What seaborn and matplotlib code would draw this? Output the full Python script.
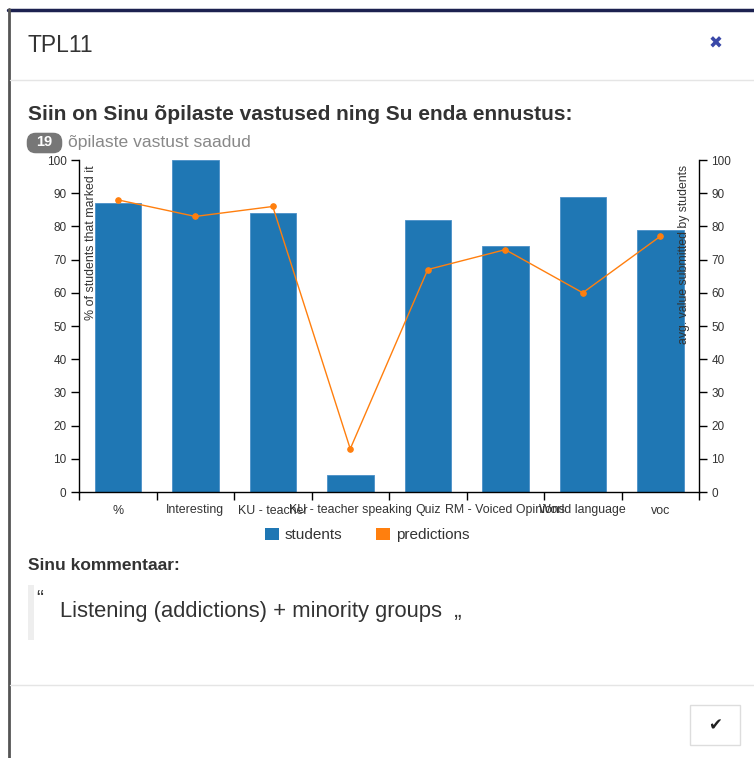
import matplotlib
matplotlib.use("Agg")
import matplotlib.pyplot as plt
import seaborn as sns
import pandas as pd
from matplotlib.lines import Line2D
from matplotlib.patches import Rectangle, FancyBboxPatch, Patch

categories = ["%", "Interesting", "KU - teacher", "KU - teacher speaking", "Quiz",
              "RM - Voiced Opinions", "World language", "voc"]
students = [87, 100, 84, 5, 82, 74, 89, 79]
predictions = [88, 83, 86, 13, 67, 73, 60, 77]
y_ticks = [0, 10, 20, 30, 40, 50, 60, 70, 80, 90, 100]

W, H = 754, 758
BLUE = "#1f77b4"
ORANGE = "#ff7f0e"
TXT = "#333333"

sns.set_theme(style="white")
plt.rcParams["font.family"] = ["Liberation Sans", "DejaVu Sans"]


def fx(x):
    return x / W


def fy(y):
    return 1 - y / H


fig = plt.figure(figsize=(W / 100, H / 100), dpi=100)
fig.patch.set_facecolor("white")

# modal frame
fig.add_artist(Line2D([fx(8), 1], [fy(9.5), fy(9.5)], color="#1c2150", lw=2.5))
fig.add_artist(Line2D([fx(9), fx(9)], [fy(9), 0], color="#555555", lw=2))
fig.add_artist(Line2D([fx(10), 1], [fy(80), fy(80)], color="#e5e5e5", lw=1))
fig.add_artist(Line2D([fx(10), 1], [fy(685), fy(685)], color="#e5e5e5", lw=1))

# header
fig.text(fx(28), fy(45), "TPL11", fontsize=16.5, color=TXT, va="center", ha="left")
fig.text(fx(716), fy(44), "\u2716", fontsize=12, color="#3a48a8", va="center", ha="center",
         family=["DejaVu Sans"])

fig.text(fx(28), fy(115), "Siin on Sinu õpilaste vastused ning Su enda ennustus:",
         fontsize=15, fontweight="bold", color=TXT, va="center", ha="left")

badge = FancyBboxPatch((fx(29), fy(151)), fx(31), (150 - 134) / H,
                       boxstyle="round,pad=0.003,rounding_size=0.012",
                       transform=fig.transFigure, facecolor="#777777", edgecolor="none")
fig.add_artist(badge)
fig.text(fx(44.5), fy(142.5), "19", fontsize=10.5, fontweight="bold", color="white",
         va="center", ha="center")
fig.text(fx(68), fy(142), "õpilaste vastust saadud", fontsize=12.6, color="#888888",
         va="center", ha="left")

# chart
ax = fig.add_axes([fx(79), fy(492), (699 - 79) / W, (492 - 160) / H])
df = pd.DataFrame({"category": categories, "students": students, "predictions": predictions})
sns.barplot(data=df, x="category", y="students", color=BLUE, width=0.6, saturation=1,
            edgecolor="#4a90c8", linewidth=0.6, ax=ax)
ax.set_xlim(-0.5, len(categories) - 0.5)
ax.set_ylim(0, 100)
ax.set_yticks(y_ticks)
ax.set_xticks(range(len(categories)))
ax.set_xticklabels(categories)
ax.set_xticks([i - 0.5 for i in range(len(categories) + 1)], minor=True)
ax.tick_params(axis="x", which="major", length=0, pad=9, labelsize=8.9, labelcolor=TXT)
ax.tick_params(axis="x", which="minor", length=6, width=1, color="black", bottom=True)
ax.tick_params(axis="y", which="major", length=6, width=1, color="black", left=True,
               labelsize=8.5, labelcolor=TXT, pad=3)
ax.set_xlabel("")
ax.set_ylabel("")
for s in ["top", "right"]:
    ax.spines[s].set_visible(False)
for s in ["left", "bottom"]:
    ax.spines[s].set_color("black")
    ax.spines[s].set_linewidth(1)
ax.text(0.02, 0.985, "% of students that marked it", transform=ax.transAxes, rotation=90,
        va="top", ha="center", fontsize=8.9, color=TXT)

ax2 = ax.twinx()
sns.pointplot(data=df, x="category", y="predictions", color=ORANGE, markersize=4,
              linewidth=1, ax=ax2)
ax2.set_xlim(-0.5, len(categories) - 0.5)
ax2.set_ylim(0, 100)
ax2.set_yticks(y_ticks)
ax2.set_ylabel("")
ax2.set_xlabel("")
ax2.tick_params(axis="y", which="major", length=6, width=1, color="black", right=True,
                labelsize=8.5, labelcolor=TXT, pad=3)
for s in ["top", "left", "bottom"]:
    ax2.spines[s].set_visible(False)
ax2.spines["right"].set_color("black")
ax2.spines["right"].set_linewidth(1)
ax2.text(0.975, 0.985, "avg. value submitted by students", transform=ax.transAxes,
         rotation=90, va="top", ha="center", fontsize=8.8, color=TXT)

handles = [Patch(facecolor=BLUE, edgecolor="none", label="students"),
           Patch(facecolor=ORANGE, edgecolor="none", label="predictions")]
fig.legend(handles=handles, loc="center", bbox_to_anchor=(fx(367), fy(535)), ncol=2,
           frameon=False, fontsize=11, handlelength=0.9, handleheight=0.9,
           handletextpad=0.4, columnspacing=2.2, labelcolor=TXT)

# comment block
fig.text(fx(28), fy(566), "Sinu kommentaar:", fontsize=12.5, fontweight="bold",
         color=TXT, va="center", ha="left")
fig.add_artist(Rectangle((fx(28), fy(640)), fx(6), (640 - 585) / H,
                         transform=fig.transFigure, facecolor="#eeeeee", edgecolor="none"))
fig.text(fx(36), fy(598), "\u201c", fontsize=15, color=TXT, va="center", ha="left")
fig.text(fx(60), fy(612), "Listening (addictions) + minority groups  \u201e", fontsize=15.8,
         color=TXT, va="center", ha="left")

# button
fig.add_artist(Rectangle((fx(690), fy(745)), fx(50), 40 / H, transform=fig.transFigure,
                         facecolor="white", edgecolor="#dddddd", lw=1))
fig.text(fx(715.5), fy(725), "\u2714", fontsize=12, color="#222222", va="center",
         ha="center", family=["DejaVu Sans"])

fig.savefig("out.png", dpi=100, facecolor="white")
